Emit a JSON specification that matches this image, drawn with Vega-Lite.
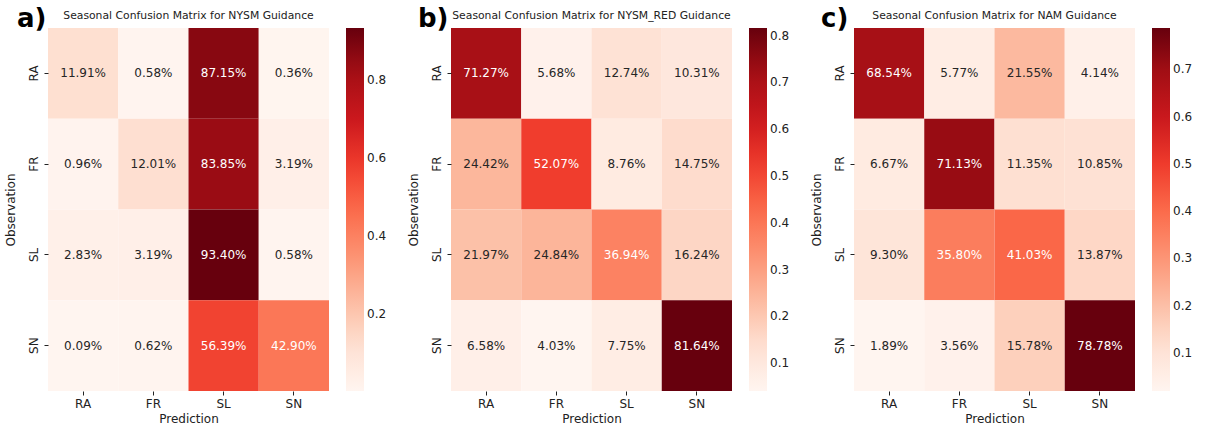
{
  "$schema": "https://vega.github.io/schema/vega-lite/v6.json",
  "background": "white",
  "padding": {"left": 4, "top": 6, "right": 0, "bottom": 0},
  "spacing": 20,
  "config": {
    "font": "DejaVu Sans",
    "view": {"stroke": null},
    "axis": {
      "labelFont": "DejaVu Sans",
      "labelFontSize": 12,
      "labelColor": "#222222",
      "titleFont": "DejaVu Sans",
      "titleFontSize": 12,
      "titleFontWeight": "normal",
      "titleColor": "#222222",
      "tickSize": 4,
      "tickColor": "#222222",
      "domain": false,
      "grid": false
    },
    "legend": {
      "labelFont": "DejaVu Sans",
      "labelFontSize": 12,
      "labelColor": "#222222"
    },
    "title": {"font": "DejaVu Sans"}
  },
  "datasets": {
    "nysm": [
      {"obs": "RA", "pred": "RA", "share": 0.1191},
      {"obs": "RA", "pred": "FR", "share": 0.0058},
      {"obs": "RA", "pred": "SL", "share": 0.8715},
      {"obs": "RA", "pred": "SN", "share": 0.0036},
      {"obs": "FR", "pred": "RA", "share": 0.0096},
      {"obs": "FR", "pred": "FR", "share": 0.1201},
      {"obs": "FR", "pred": "SL", "share": 0.8385},
      {"obs": "FR", "pred": "SN", "share": 0.0319},
      {"obs": "SL", "pred": "RA", "share": 0.0283},
      {"obs": "SL", "pred": "FR", "share": 0.0319},
      {"obs": "SL", "pred": "SL", "share": 0.9340},
      {"obs": "SL", "pred": "SN", "share": 0.0058},
      {"obs": "SN", "pred": "RA", "share": 0.0009},
      {"obs": "SN", "pred": "FR", "share": 0.0062},
      {"obs": "SN", "pred": "SL", "share": 0.5639},
      {"obs": "SN", "pred": "SN", "share": 0.4290}
    ],
    "nysm_red": [
      {"obs": "RA", "pred": "RA", "share": 0.7127},
      {"obs": "RA", "pred": "FR", "share": 0.0568},
      {"obs": "RA", "pred": "SL", "share": 0.1274},
      {"obs": "RA", "pred": "SN", "share": 0.1031},
      {"obs": "FR", "pred": "RA", "share": 0.2442},
      {"obs": "FR", "pred": "FR", "share": 0.5207},
      {"obs": "FR", "pred": "SL", "share": 0.0876},
      {"obs": "FR", "pred": "SN", "share": 0.1475},
      {"obs": "SL", "pred": "RA", "share": 0.2197},
      {"obs": "SL", "pred": "FR", "share": 0.2484},
      {"obs": "SL", "pred": "SL", "share": 0.3694},
      {"obs": "SL", "pred": "SN", "share": 0.1624},
      {"obs": "SN", "pred": "RA", "share": 0.0658},
      {"obs": "SN", "pred": "FR", "share": 0.0403},
      {"obs": "SN", "pred": "SL", "share": 0.0775},
      {"obs": "SN", "pred": "SN", "share": 0.8164}
    ],
    "nam": [
      {"obs": "RA", "pred": "RA", "share": 0.6854},
      {"obs": "RA", "pred": "FR", "share": 0.0577},
      {"obs": "RA", "pred": "SL", "share": 0.2155},
      {"obs": "RA", "pred": "SN", "share": 0.0414},
      {"obs": "FR", "pred": "RA", "share": 0.0667},
      {"obs": "FR", "pred": "FR", "share": 0.7113},
      {"obs": "FR", "pred": "SL", "share": 0.1135},
      {"obs": "FR", "pred": "SN", "share": 0.1085},
      {"obs": "SL", "pred": "RA", "share": 0.0930},
      {"obs": "SL", "pred": "FR", "share": 0.3580},
      {"obs": "SL", "pred": "SL", "share": 0.4103},
      {"obs": "SL", "pred": "SN", "share": 0.1387},
      {"obs": "SN", "pred": "RA", "share": 0.0189},
      {"obs": "SN", "pred": "FR", "share": 0.0356},
      {"obs": "SN", "pred": "SL", "share": 0.1578},
      {"obs": "SN", "pred": "SN", "share": 0.7878}
    ]
  },
  "resolve": {"scale": {"color": "independent"}, "legend": {"color": "independent"}},
  "hconcat": [
    {
      "title": {"text": "a)", "fontSize": 26, "fontWeight": "bold", "anchor": "start", "frame": "bounds", "offset": -22, "dx": 13, "color": "#000000"},
      "hconcat": [
        {
          "data": {"name": "nysm"},
          "width": 281,
          "height": 363,
          "title": {"text": "Seasonal Confusion Matrix for NYSM Guidance", "fontSize": 10.8, "fontWeight": "normal", "anchor": "middle", "frame": "group", "offset": 7, "color": "#222222"},
          "encoding": {
            "x": {"field": "pred", "type": "ordinal", "sort": ["RA", "FR", "SL", "SN"], "scale": {"paddingInner": 0, "paddingOuter": 0},
                  "axis": {"title": "Prediction", "labelAngle": 0, "labelPadding": 3, "titlePadding": 4}},
            "y": {"field": "obs", "type": "ordinal", "sort": ["RA", "FR", "SL", "SN"], "scale": {"paddingInner": 0, "paddingOuter": 0},
                  "axis": {"title": "Observation", "labelAngle": 270, "labelPadding": 4, "titlePadding": 10}}
          },
          "layer": [
            {
              "mark": {"type": "rect", "strokeWidth": 0},
              "encoding": {
                "color": {"field": "share", "type": "quantitative",
                  "scale": {
                    "domain": [0.0009, 0.1175375, 0.234175, 0.3508125, 0.46745, 0.5840875, 0.700725, 0.8173625, 0.934],
                    "range": ["#fff5f0", "#fee0d2", "#fcbba1", "#fc9272", "#fb6a4a", "#ef3b2c", "#cb181d", "#a50f15", "#67000d"],
                    "interpolate": "rgb"},
                  "legend": {"title": null, "direction": "vertical", "gradientLength": 363, "gradientThickness": 18, "gradientStrokeWidth": 0, "offset": 17, "labelOffset": 3, "values": [0.2, 0.4, 0.6, 0.8], "labelOverlap": false}}
              }
            },
            {
              "mark": {"type": "text", "fontSize": 12, "font": "DejaVu Sans"},
              "encoding": {
                "text": {"field": "share", "type": "quantitative", "format": ".2%"},
                "color": {"condition": {"test": "datum.share > 0.3", "value": "#ffffff"}, "value": "#262626"}
              }
            }
          ]
        }
      ]
    },
    {
      "title": {"text": "b)", "fontSize": 26, "fontWeight": "bold", "anchor": "start", "frame": "bounds", "offset": -22, "dx": 11, "color": "#000000"},
      "hconcat": [
        {
          "data": {"name": "nysm_red"},
          "width": 281,
          "height": 363,
          "title": {"text": "Seasonal Confusion Matrix for NYSM_RED Guidance", "fontSize": 10.8, "fontWeight": "normal", "anchor": "middle", "frame": "group", "offset": 7, "color": "#222222"},
          "encoding": {
            "x": {"field": "pred", "type": "ordinal", "sort": ["RA", "FR", "SL", "SN"], "scale": {"paddingInner": 0, "paddingOuter": 0},
                  "axis": {"title": "Prediction", "labelAngle": 0, "labelPadding": 3, "titlePadding": 4}},
            "y": {"field": "obs", "type": "ordinal", "sort": ["RA", "FR", "SL", "SN"], "scale": {"paddingInner": 0, "paddingOuter": 0},
                  "axis": {"title": "Observation", "labelAngle": 270, "labelPadding": 4, "titlePadding": 10}}
          },
          "layer": [
            {
              "mark": {"type": "rect", "strokeWidth": 0},
              "encoding": {
                "color": {"field": "share", "type": "quantitative",
                  "scale": {
                    "domain": [0.0403, 0.1373125, 0.234325, 0.3313375, 0.42835, 0.5253625, 0.622375, 0.7193875, 0.8164],
                    "range": ["#fff5f0", "#fee0d2", "#fcbba1", "#fc9272", "#fb6a4a", "#ef3b2c", "#cb181d", "#a50f15", "#67000d"],
                    "interpolate": "rgb"},
                  "legend": {"title": null, "direction": "vertical", "gradientLength": 363, "gradientThickness": 18, "gradientStrokeWidth": 0, "offset": 17, "labelOffset": 3, "values": [0.1, 0.2, 0.3, 0.4, 0.5, 0.6, 0.7, 0.8], "labelOverlap": false}}
              }
            },
            {
              "mark": {"type": "text", "fontSize": 12, "font": "DejaVu Sans"},
              "encoding": {
                "text": {"field": "share", "type": "quantitative", "format": ".2%"},
                "color": {"condition": {"test": "datum.share > 0.3", "value": "#ffffff"}, "value": "#262626"}
              }
            }
          ]
        }
      ]
    },
    {
      "title": {"text": "c)", "fontSize": 26, "fontWeight": "bold", "anchor": "start", "frame": "bounds", "offset": -22, "dx": 11, "color": "#000000"},
      "hconcat": [
        {
          "data": {"name": "nam"},
          "width": 281,
          "height": 363,
          "title": {"text": "Seasonal Confusion Matrix for NAM Guidance", "fontSize": 10.8, "fontWeight": "normal", "anchor": "middle", "frame": "group", "offset": 7, "color": "#222222"},
          "encoding": {
            "x": {"field": "pred", "type": "ordinal", "sort": ["RA", "FR", "SL", "SN"], "scale": {"paddingInner": 0, "paddingOuter": 0},
                  "axis": {"title": "Prediction", "labelAngle": 0, "labelPadding": 3, "titlePadding": 4}},
            "y": {"field": "obs", "type": "ordinal", "sort": ["RA", "FR", "SL", "SN"], "scale": {"paddingInner": 0, "paddingOuter": 0},
                  "axis": {"title": "Observation", "labelAngle": 270, "labelPadding": 4, "titlePadding": 10}}
          },
          "layer": [
            {
              "mark": {"type": "rect", "strokeWidth": 0},
              "encoding": {
                "color": {"field": "share", "type": "quantitative",
                  "scale": {
                    "domain": [0.0189, 0.1150125, 0.211125, 0.3072375, 0.40335, 0.4994625, 0.595575, 0.6916875, 0.7878],
                    "range": ["#fff5f0", "#fee0d2", "#fcbba1", "#fc9272", "#fb6a4a", "#ef3b2c", "#cb181d", "#a50f15", "#67000d"],
                    "interpolate": "rgb"},
                  "legend": {"title": null, "direction": "vertical", "gradientLength": 363, "gradientThickness": 18, "gradientStrokeWidth": 0, "offset": 17, "labelOffset": 3, "values": [0.1, 0.2, 0.3, 0.4, 0.5, 0.6, 0.7], "labelOverlap": false}}
              }
            },
            {
              "mark": {"type": "text", "fontSize": 12, "font": "DejaVu Sans"},
              "encoding": {
                "text": {"field": "share", "type": "quantitative", "format": ".2%"},
                "color": {"condition": {"test": "datum.share > 0.3", "value": "#ffffff"}, "value": "#262626"}
              }
            }
          ]
        }
      ]
    }
  ]
}
